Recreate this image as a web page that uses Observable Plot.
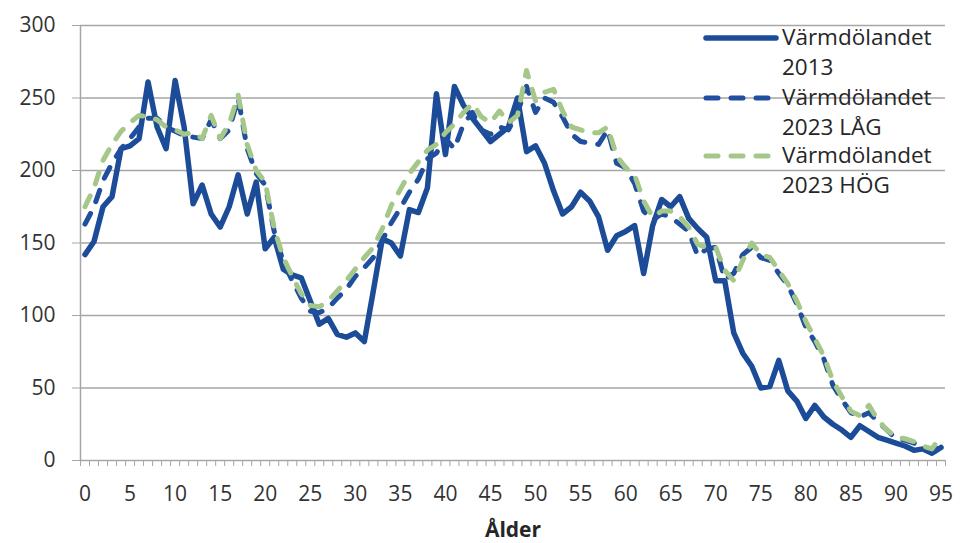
<!DOCTYPE html>
<html><head><meta charset="utf-8">
<script src="https://cdn.jsdelivr.net/npm/d3@7"></script>
<script src="https://cdn.jsdelivr.net/npm/@observablehq/plot@0.6"></script>
<style>
body{margin:0;background:#fff;font-family:"Open Sans",sans-serif;}
#wrap{position:relative;width:961px;height:543px;overflow:hidden;}
.leg{position:absolute;left:703px;font-size:22.5px;line-height:30px;color:#262626;}
.leg svg{position:absolute;left:0;top:10px;}
.leg span{position:absolute;left:79px;top:0;white-space:nowrap;}
</style></head><body><div id="wrap"></div>
<script>
const ages = d3.range(0, 96);
const v2013 = [142,151,175,182,215,217,222,261,230,215,262,230,177,190,170,161,175,197,170,192,
146,154,132,128,126,110,94,98,87,85,88,82,117,153,150,141,173,171,188,253,
211,258,245,236,228,220,225,230,250,213,217,205,186,170,175,185,179,168,145,155,
158,162,129,162,180,175,182,167,160,154,124,124,88,74,65,50,51,69,48,41,
29,38,30,25,21,16,24,20,16,14,12,10,7,8,5,9];
const vLag = [163,175,193,205,215,222,230,236,236,230,227,224,223,222,235,222,228,250,215,198,
190,158,137,124,112,103,102,105,112,118,127,133,140,152,164,174,185,194,208,212,
222,215,232,240,228,225,230,228,240,258,240,250,247,237,225,220,219,218,228,205,
202,191,172,166,170,168,163,158,141,146,147,125,129,142,147,140,138,129,121,108,
92,82,70,52,42,33,30,33,27,21,15,14,12,9,7,9];
const vHog = [175,188,207,218,227,233,238,237,235,230,228,225,226,222,238,222,232,252,218,200,
192,160,140,127,115,107,106,110,117,124,132,140,147,160,176,187,198,206,214,218,
226,232,240,246,237,233,241,233,238,269,248,254,256,241,230,228,226,226,230,210,
202,197,179,168,172,172,168,161,149,147,147,131,124,138,150,142,140,131,122,110,
96,84,72,55,44,34,31,38,28,21,16,15,13,10,8,17];
const seriesNames = ["Värmdölandet 2013", "Värmdölandet 2023 LÅG", "Värmdölandet 2023 HÖG"];
const seriesColors = ["#1c4c98", "#1f4f9e", "#a5c78a"];
const xTicks = [0,5,10,15,20,25,30,35,40,45,50,55,60,65,70,75,80,85,90,95];
const yTicks = [0,50,100,150,200,250,300];
const xTitle = "Ålder";

const rows = (vals) => ages.map((a, i) => ({age: a, value: vals[i]}));
const grid = "#a6a6a6";
const dash = "12,13";

const chart = Plot.plot({
  width: 961, height: 543,
  marginLeft: 80, marginRight: 16, marginTop: 25, marginBottom: 83,
  x: {domain: [-0.5, 95.5], axis: null},
  y: {domain: [0, 300], axis: null},
  style: {fontFamily: "Open Sans, sans-serif", fontSize: "21px", color: "#333", background: "#fff"},
  marks: [
    Plot.gridY(yTicks.filter(d => d > 0), {stroke: grid, strokeOpacity: 1, strokeWidth: 1.5}),
    Plot.axisY({ticks: yTicks, tickSize: 8, tickPadding: 17, stroke: grid, fill: "#333", fontSize: 21, label: null}),
    Plot.axisX({ticks: d3.range(-0.5, 96, 1), tickSize: 6, tickFormat: () => "", stroke: grid, label: null}),
    Plot.axisX({ticks: xTicks, tickSize: 0, tickPadding: 26, fill: "#333", fontSize: 21, label: null}),
    Plot.ruleX([-0.5], {stroke: grid, strokeWidth: 1.5}),
    Plot.ruleY([0], {stroke: grid, strokeWidth: 1.5}),
    Plot.line(rows(v2013), {x: "age", y: "value", stroke: seriesColors[0], strokeWidth: 5.5, strokeLinejoin: "round", strokeLinecap: "round"}),
    Plot.line(rows(vLag), {x: "age", y: "value", stroke: seriesColors[1], strokeWidth: 5, strokeDasharray: dash, strokeLinecap: "round", strokeLinejoin: "round"}),
    Plot.line(rows(vHog), {x: "age", y: "value", stroke: seriesColors[2], strokeWidth: 5, strokeDasharray: dash, strokeLinecap: "round", strokeLinejoin: "round"}),
    Plot.text([xTitle], {frameAnchor: "bottom", lineAnchor: "middle", dy: 70, fontWeight: "bold", fontSize: 21, fill: "#262626"})
  ]
});
const wrap = document.getElementById("wrap");
wrap.appendChild(chart);

const legTops = [22, 82, 140];
const dashes = [null, dash, dash];
seriesNames.forEach((name, i) => {
  const d = document.createElement("div");
  d.className = "leg";
  d.style.top = legTops[i] + "px";
  const words = name.split(" ");
  const l1 = words[0], l2 = words.slice(1).join(" ");
  d.innerHTML = `<svg width="76" height="12"><line x1="3" y1="6" x2="73" y2="6" stroke="${seriesColors[i]}" stroke-width="${i===0?5.5:5}" stroke-linecap="round" ${dashes[i] ? `stroke-dasharray="${dashes[i]}"` : ""}/></svg><span>${l1}<br>${l2}</span>`;
  wrap.appendChild(d);
});
</script></body></html>
